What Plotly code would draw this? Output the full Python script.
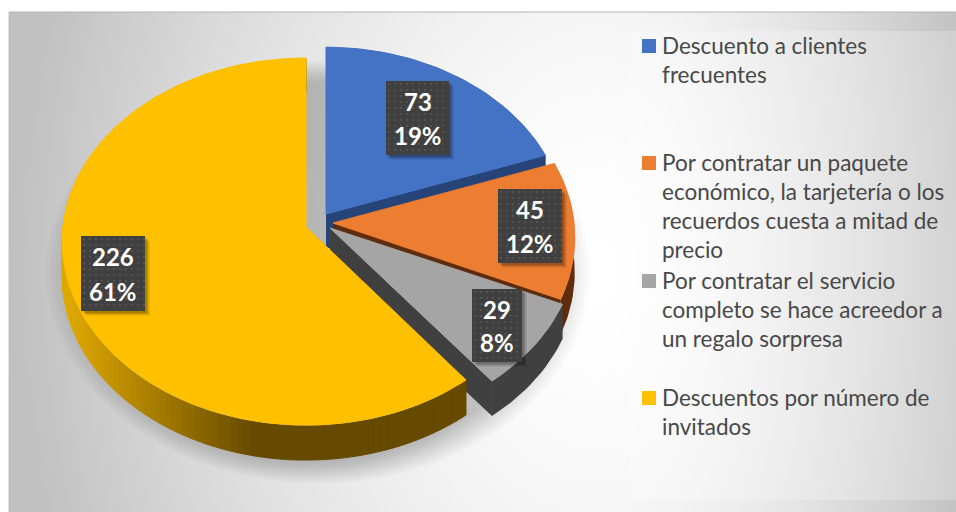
import numpy as np
import plotly.graph_objects as go

# values as printed on the chart
values = [73, 45, 29, 226]
percents = [19, 12, 8, 61]
legend_lines = [
    ["Descuento a clientes", "frecuentes"],
    ["Por contratar un paquete", "económico, la tarjetería o los", "recuerdos cuesta a mitad de", "precio"],
    ["Por contratar el servicio", "completo se hace acreedor a", "un regalo sorpresa"],
    ["Descuentos por número de", "invitados"],
]

top_colors = ["#4472C4", "#ED7D31", "#A5A5A5", "#FFC000"]
side_colors = ["#264478", "#5F2D0D", "#404040", "#664A00"]

# pie geometry on the page: exploded apex of each slice, radii, tilt, thickness
apex = [(326, 214), (333, 223), (330, 228), (306, 227)]
radius_x = [239, 241, 246, 243]
radius_y = [180, 182.4, 182.4, 182.4]
PERSP, DEPTH = 0.0791, 35

# label boxes (left, top, right, bottom)
label_boxes = [(386, 81, 449, 155), (498, 189, 562, 263), (472, 289, 522, 362), (81, 236, 145, 311)]
legend_first_y = [45, 162, 280, 397]
LINE_STEP = 29.3


def project(i, theta):
    x, y = np.sin(theta), np.cos(theta)
    den = 1 + PERSP * y
    return apex[i][0] + radius_x[i] * x / den, apex[i][1] - radius_y[i] * y / den


def poly(xs, ys, color, line=False):
    return go.Scatter(x=list(xs), y=list(ys), mode="lines", fill="toself", fillcolor=color,
                      line=dict(color=color if line else "rgba(0,0,0,0)", width=1 if line else 0),
                      hoverinfo="skip", showlegend=False)


def rect(x0, y0, x1, y1, color):
    return poly([x0, x1, x1, x0, x0], [y0, y0, y1, y1, y0], color)


fig = go.Figure()

# page background
gx = np.linspace(9, 956, 48)
gy = np.linspace(12, 512, 26)
dx = np.where(gx < 600, (gx - 600) / 580, (gx - 600) / 380)
dy = (gy - 270) / 800
t = np.sqrt(dx[None, :] ** 2 + dy[:, None] ** 2)
grey = np.clip(255 - 62 * t ** 1.6, 192, 255)
fig.add_trace(go.Heatmap(x=gx, y=gy, z=grey, zmin=0, zmax=255, zsmooth="best", showscale=False,
                         colorscale=[[0, "#000000"], [1, "#ffffff"]], hoverinfo="skip"))
fig.add_trace(rect(630, 31, 956, 500, "rgba(255,255,255,0.22)"))
# white page around the pasted chart
fig.add_trace(rect(-5, -5, 9, 520, "#ffffff"))
fig.add_trace(rect(-5, -5, 960, 12, "#ffffff"))

# soft shadow under the pie
phi = np.linspace(0, 2 * np.pi, 120)
for s in np.linspace(1, 0, 14):
    fig.add_trace(poly(318 + (232 + 40 * s) * np.sin(phi), 272 + (190 + 22 * s) * np.cos(phi),
                       "rgba(0,0,0,0.017)"))

edges = np.cumsum([0] + values) / sum(values) * 2 * np.pi
for i in range(len(values)):
    arc = np.linspace(edges[i], edges[i + 1], max(8, int((edges[i + 1] - edges[i]) * 40)))
    ax, ay = project(i, arc)
    px, py = apex[i]
    # radial faces
    for j in (0, -1):
        fig.add_trace(poly([px, ax[j], ax[j], px, px], [py, ay[j], ay[j] + DEPTH, py + DEPTH, py], side_colors[i]))
    # outer wall, shaded from the left on the big slice
    if i == 3:
        for k in range(len(arc) - 1):
            mid = (ax[k] + ax[k + 1]) / 2
            f = np.clip((mid - 70) / 185, 0, 1)
            c = "rgb(%d,%d,0)" % (222 + (102 - 222) * f, 168 + (74 - 168) * f)
            fig.add_trace(poly([ax[k], ax[k + 1], ax[k + 1], ax[k], ax[k]],
                               [ay[k] + 1, ay[k + 1] + 1, ay[k + 1] + DEPTH, ay[k] + DEPTH, ay[k] + 1], c, True))
    else:
        fig.add_trace(poly(np.r_[ax, ax[::-1], ax[0]], np.r_[ay, ay[::-1] + DEPTH, ay[0]], side_colors[i]))
    # top face
    fig.add_trace(poly(np.r_[px, ax, px], np.r_[py, ay, py], top_colors[i], True))

# data labels
for i, (x0, y0, x1, y1) in enumerate(label_boxes):
    for off, a in ((6, 0.06), (5, 0.08), (4, 0.10), (3, 0.14)):
        fig.add_trace(rect(x0 + off - 1, y0 + off - 1, x1 + off - 1, y1 + off - 1, "rgba(0,0,0,%g)" % a))
    fig.add_trace(rect(x0, y0, x1, y1, "#404040"))
    dots_x, dots_y = np.meshgrid(np.arange(x0 + 3, x1, 6), np.arange(y0 + 3, y1, 6))
    fig.add_trace(go.Scatter(x=dots_x.ravel(), y=dots_y.ravel(), mode="markers", hoverinfo="skip", showlegend=False,
                             marker=dict(symbol="square", size=2, color="#525252")))
    fig.add_annotation(x=(x0 + x1) / 2, y=(y0 * 3 + y1) / 4 + 2, text="<b>%d</b>" % values[i], showarrow=False,
                       font=dict(family="Lato", size=24, color="white"))
    fig.add_annotation(x=(x0 + x1) / 2, y=(y0 + y1 * 3) / 4 - 1, text="<b>%d%%</b>" % percents[i], showarrow=False,
                       font=dict(family="Lato", size=24, color="white"))

# legend, one annotation per wrapped line
for i, lines in enumerate(legend_lines):
    y = legend_first_y[i]
    fig.add_shape(type="rect", x0=642, x1=656, y0=y - 7 + 1, y1=y + 7 + 1, fillcolor=top_colors[i], line_width=0)
    for n, line in enumerate(lines):
        fig.add_annotation(x=660, y=y + n * LINE_STEP, text=line, xanchor="left", showarrow=False,
                           font=dict(family="Lato", size=22.5, color="#484848"))

# frame edge of the pasted chart
fig.add_shape(type="line", x0=9, x1=956, y0=12, y1=12, line=dict(color="#b4b4b4", width=1))
fig.add_shape(type="line", x0=9, x1=9, y0=12, y1=512, line=dict(color="#c0c0c0", width=1))

fig.update_xaxes(range=[0, 956], visible=False, fixedrange=True)
fig.update_yaxes(range=[512, 0], visible=False, fixedrange=True)
fig.update_layout(width=956, height=512, margin=dict(l=0, r=0, t=0, b=0), paper_bgcolor="white",
                  plot_bgcolor="white", showlegend=False)

fig.write_html("out.html", config={"displayModeBar": False},
               post_script="document.body.style.margin='0';document.body.style.overflow='hidden';")
